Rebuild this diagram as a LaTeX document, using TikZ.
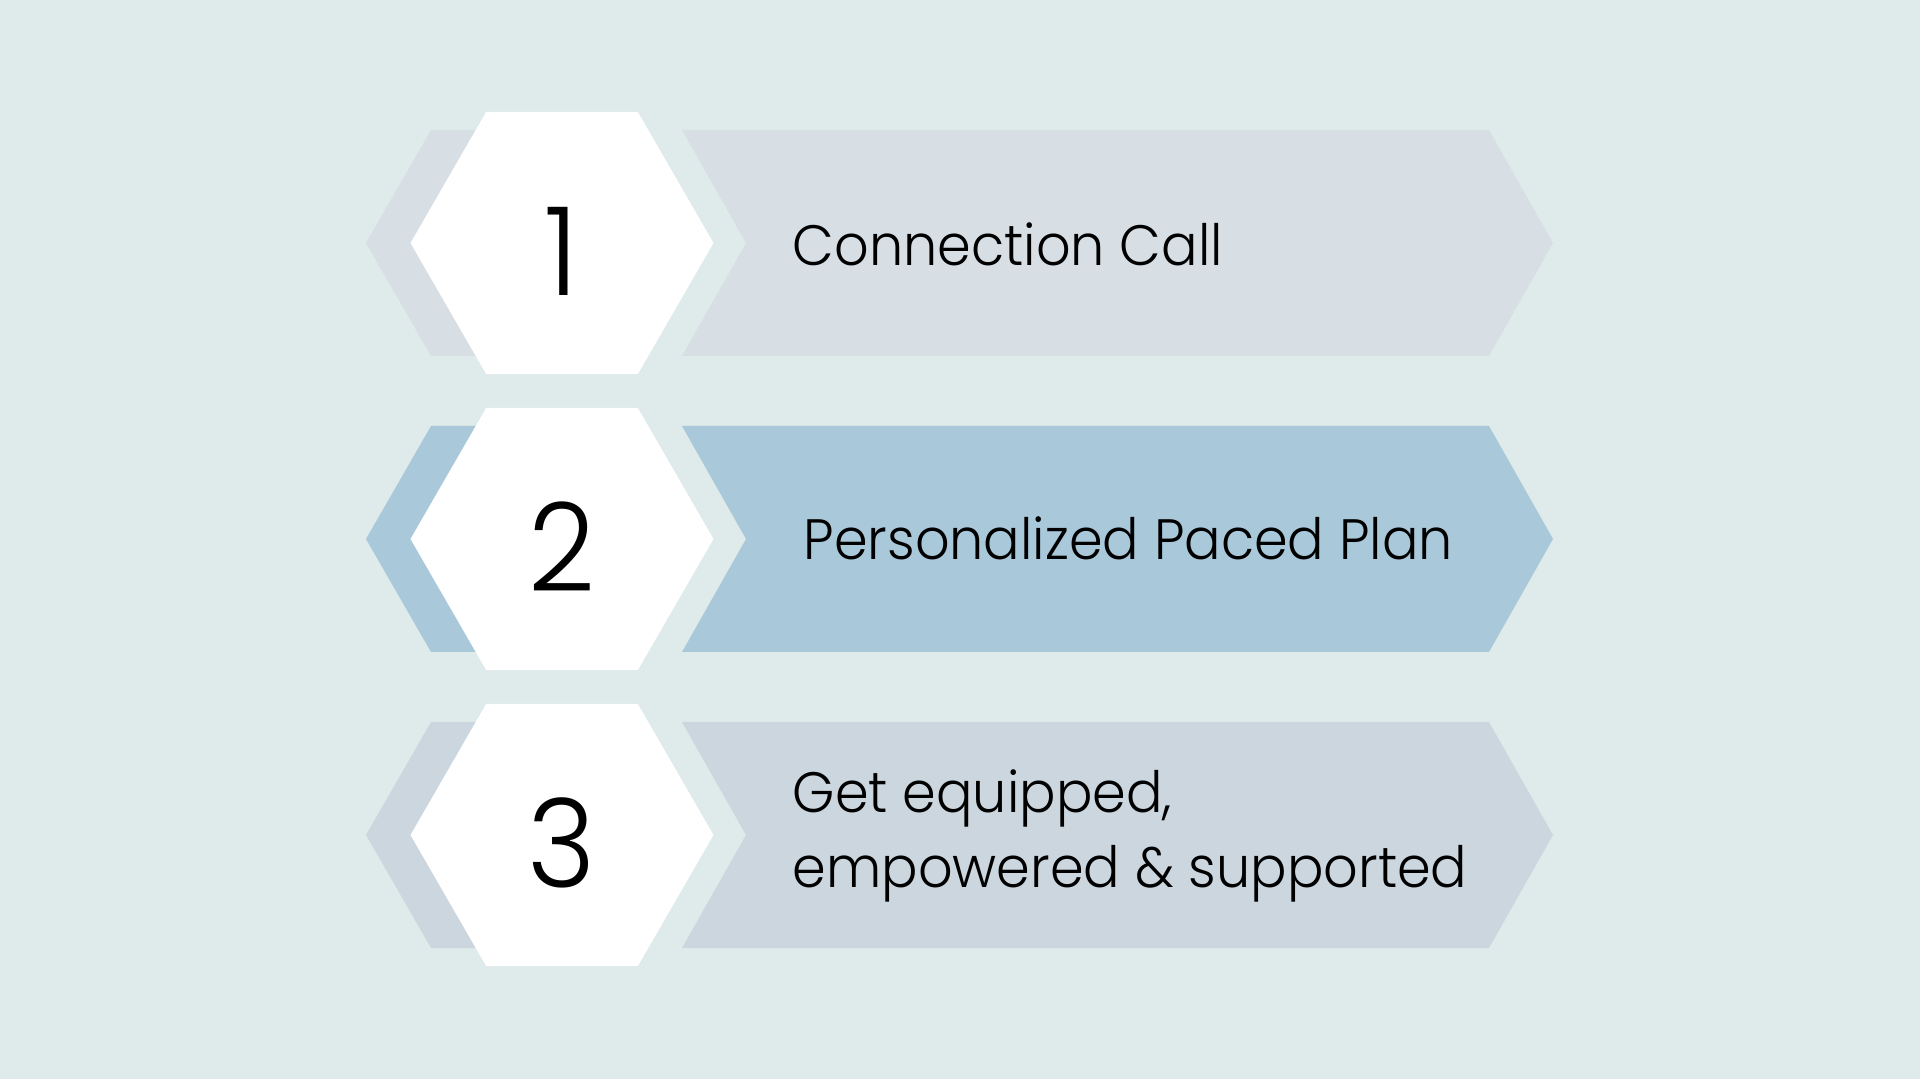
\documentclass[tikz,border=0pt]{standalone}
\usepackage{fontspec}
\IfFontExistsTF{Poppins Light}{\setmainfont{Poppins Light}[FakeStretch=0.95]}{\setmainfont{Poppins}[FakeStretch=0.95]}
\usetikzlibrary{shapes.geometric}

\definecolor{bgteal}{HTML}{DFEAEA}
\definecolor{stepgrey}{HTML}{D7DFE5}
\definecolor{stepblue}{HTML}{A9C8DA}
\definecolor{stepslate}{HTML}{CBD6DE}

\begin{document}
\begin{tikzpicture}[
	x=0.1mm, y=-0.1mm,
	hexnode/.style={regular polygon, regular polygon sides=6, fill=white, minimum size=30.3mm, inner sep=0pt},
	numtext/.style={inner sep=0pt, font=\fontsize{35}{35}\selectfont},
	steptext/.style={anchor=west, align=left, inner sep=0pt, font=\fontsize{16.2}{21.3}\selectfont},
]
	% Background and page size
	\fill[bgteal] (0, 0) rectangle (1920, 1079);
	\useasboundingbox (0, 0) rectangle (1920, 1079);

	% One row per step: left chevron, notched arrow, white hexagon on top
	\foreach \r/\y/\col in {1/243/stepgrey, 2/539/stepblue, 3/835/stepslate} {
		\fill[\col] (366, \y) -- (431, \y-113) -- (600, \y-113) -- (600, \y+113) -- (431, \y+113) -- cycle;
		\fill[\col] (682, \y-113) -- (1489, \y-113) -- (1553, \y) -- (1489, \y+113) -- (682, \y+113) -- (746, \y) -- cycle;
		\node[hexnode] (hex\r) at (562, \y) {};
		\node[numtext] (num\r) at (562, \y+8) {\r};
	}

	% Step texts
	\node[steptext] (txt1) at (792, 244) {Connection Call};
	\node[steptext] (txt2) at (803, 538) {Personalized Paced Plan};
	\node[steptext] (txt3) at (792, 836) {Get equipped,\\empowered \& supported};
\end{tikzpicture}
\end{document}
